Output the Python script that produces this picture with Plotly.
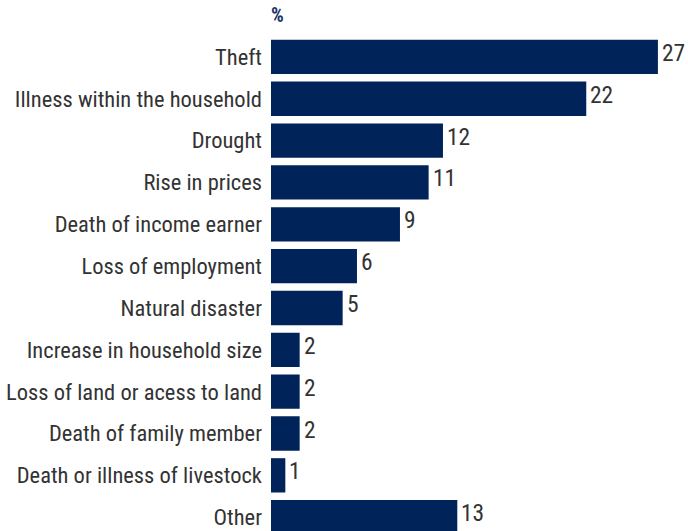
import plotly.graph_objects as go

# Reasons, top to bottom, with share of respondents (%)
reasons = [
    "Theft",
    "Illness within the household",
    "Drought",
    "Rise in prices",
    "Death of income earner",
    "Loss of employment",
    "Natural disaster",
    "Increase in household size",
    "Loss of land or acess to land",
    "Death of family member",
    "Death or illness of livestock",
    "Other",
]
shares = [27, 22, 12, 11, 9, 6, 5, 2, 2, 2, 1, 13]
unit_label = "%"

BAR_COLOR = "#00235a"
TEXT_COLOR = "#333333"
FONT = "Roboto Condensed, Liberation Sans Narrow, Arial Narrow, sans-serif"

fig = go.Figure(
    go.Bar(
        x=shares,
        y=reasons,
        orientation="h",
        marker=dict(color=BAR_COLOR, line=dict(width=0)),
        width=0.82,
        hoverinfo="x+y",
    )
)

# Value labels just past the end of each bar
value_labels = [
    dict(
        text=str(v),
        x=v,
        y=r,
        xref="x",
        yref="y",
        xanchor="left",
        yanchor="middle",
        xshift=2,
        yshift=4,
        showarrow=False,
        font=dict(family=FONT, size=23.5, color=TEXT_COLOR),
    )
    for r, v in zip(reasons, shares)
]

unit_note = dict(
    text=f"<b>{unit_label}</b>",
    xref="paper",
    yref="paper",
    x=0.0,
    y=1.0,
    xanchor="left",
    yanchor="bottom",
    xshift=-2,
    yshift=7,
    showarrow=False,
    font=dict(family=FONT, size=20, color="#1a3466"),
)

fig.update_layout(
    width=688,
    height=531,
    margin=dict(l=271, r=0, t=36, b=0),
    paper_bgcolor="white",
    plot_bgcolor="white",
    showlegend=False,
    font=dict(family=FONT, size=22.5, color=TEXT_COLOR),
    xaxis=dict(
        range=[0, 29.1],
        showgrid=False,
        zeroline=False,
        showticklabels=False,
        showline=False,
        fixedrange=True,
    ),
    yaxis=dict(
        categoryorder="array",
        categoryarray=reasons,
        range=[11.33, -0.5],
        showgrid=False,
        zeroline=False,
        showline=False,
        ticks="",
        ticklabelstandoff=8,
        tickfont=dict(family=FONT, size=22.5, color=TEXT_COLOR),
    ),
    annotations=value_labels + [unit_note],
)

fig.write_html("out.html")
